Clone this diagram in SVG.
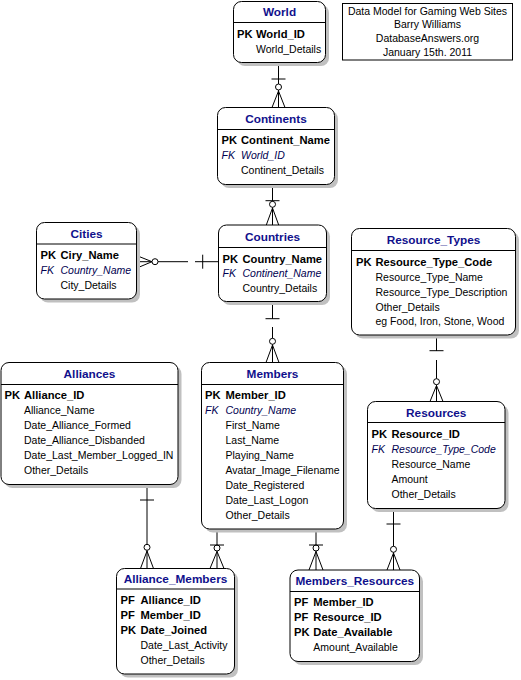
<svg xmlns="http://www.w3.org/2000/svg" width="521" height="680" viewBox="0 0 521 680">
<style>
text{font-family:"Liberation Sans",Arial,sans-serif;font-size:10.5px;fill:#000}
.t{font-weight:bold;font-size:11.8px;fill:#10108c;text-anchor:middle}
.k{font-weight:bold;font-size:11.2px}
.fk{font-style:italic;fill:#000050}
.box{fill:#fff;stroke:#000;stroke-width:1}
.sh{fill:#c0c0c0}
.hl{stroke:#000;stroke-width:1}
.c{fill:none;stroke:#000;stroke-width:1}
.note{text-anchor:middle}
</style>
<rect width="521" height="680" fill="#fff"/>

<g id="title">
<rect x="342.5" y="3.5" width="170" height="56.5" fill="#fff" stroke="#000"/>
<text class="note" x="427.5" y="14.7">Data Model for Gaming Web Sites</text>
<text class="note" x="427.5" y="28.3">Barry Williams</text>
<text class="note" x="427.5" y="42.3">DatabaseAnswers.org</text>
<text class="note" x="427.5" y="56.3">January 15th. 2011</text>
</g>

<g id="connectors">
<!-- World - Continents -->
<path class="c" d="M278.5 62V84M271.5 79H285.5M278.5 90V107.5M278.5 91L272 107.5M278.5 91L285 107.5"/>
<circle class="c" cx="278.5" cy="87" r="3"/>
<!-- Continents - Countries -->
<path class="c" d="M272.5 184.5V201.3M265.5 200.7H279.5M272.5 207.3V225M272.5 208L266.3 225M272.5 208L278.7 225"/>
<circle class="c" cx="272.5" cy="204.3" r="3"/>
<!-- Countries - Members -->
<path class="c" d="M272.5 301.5V318.7M265.5 318.7H279.5M272.5 327V338.3M272.5 344.3V362.5M272.5 345L266 362.5M272.5 345L279 362.5"/>
<circle class="c" cx="272.5" cy="341.3" r="3"/>
<!-- Cities - Countries -->
<path class="c" d="M218.5 261.7H195M202.7 254.7V268.7M188 261.7H158M152 261.7H137M152 261.7L137 255.7M152 261.7L137 268"/>
<circle class="c" cx="155" cy="261.7" r="3"/>
<!-- Resource_Types - Resources -->
<path class="c" d="M436.5 335V351M429.5 350.7H443.5M436.5 360V378.7M436.5 384.7V401.5M436.5 385.5L430 401.5M436.5 385.5L443 401.5"/>
<circle class="c" cx="436.5" cy="381.7" r="3"/>
<!-- Alliances - Alliance_Members -->
<path class="c" d="M147 484.5V544.3M140 500H154M147 550.3V568.5M147 551L140.5 568.5M147 551L153.5 568.5"/>
<circle class="c" cx="147" cy="547.3" r="3"/>
<!-- Members - Alliance_Members -->
<path class="c" d="M217 529V545M210 545H224M217 551V568.5M217 551.5L210 568.5M217 551.5L224 568.5"/>
<circle class="c" cx="217" cy="548" r="3"/>
<!-- Members - Members_Resources -->
<path class="c" d="M316 529V545M309 545H323M316 551V570M316 551.5L309 570M316 551.5L323 570"/>
<circle class="c" cx="316" cy="548" r="3"/>
<!-- Resources - Members_Resources -->
<path class="c" d="M393.5 508.5V546.3M386.5 524H400.5M393.5 552.3V570M393.5 553L387 570M393.5 553L400 570"/>
<circle class="c" cx="393.5" cy="549.3" r="3"/>
</g>

<g id="World">
<rect class="sh" x="237" y="5" width="92" height="61" rx="8"/>
<rect class="box" x="233.5" y="1.5" width="92" height="61" rx="8"/>
<line class="hl" x1="233.5" y1="22.5" x2="325.5" y2="22.5"/>
<text class="t" x="279.5" y="16">World</text>
<text class="k" x="237" y="37.5">PK</text><text class="k" x="256" y="37.5">World_ID</text>
<text x="256" y="52.5">World_Details</text>
</g>

<g id="Continents">
<rect class="sh" x="221" y="111" width="117" height="77" rx="8"/>
<rect class="box" x="217.5" y="107.5" width="117" height="77" rx="8"/>
<line class="hl" x1="217.5" y1="129.5" x2="334.5" y2="129.5"/>
<text class="t" x="276" y="123">Continents</text>
<text class="k" x="221.5" y="144">PK</text><text class="k" x="241" y="144">Continent_Name</text>
<text class="fk" x="221.5" y="159">FK</text><text class="fk" x="241" y="159">World_ID</text>
<text x="241" y="174">Continent_Details</text>
</g>

<g id="Cities">
<rect class="sh" x="40" y="226" width="100" height="76.5" rx="8"/>
<rect class="box" x="36.5" y="222.5" width="100" height="76.5" rx="8"/>
<line class="hl" x1="36.5" y1="244" x2="136.5" y2="244"/>
<text class="t" x="86.5" y="237.5">Cities</text>
<text class="k" x="40.5" y="259">PK</text><text class="k" x="60.5" y="259">Ciry_Name</text>
<text class="fk" x="40.5" y="274">FK</text><text class="fk" x="60.5" y="274">Country_Name</text>
<text x="60.5" y="289">City_Details</text>
</g>

<g id="Countries">
<rect class="sh" x="222" y="228.5" width="108" height="76.5" rx="8"/>
<rect class="box" x="218.5" y="225" width="108" height="76.5" rx="8"/>
<line class="hl" x1="218.5" y1="247.5" x2="326.5" y2="247.5"/>
<text class="t" x="272.5" y="241">Countries</text>
<text class="k" x="222.5" y="262.5">PK</text><text class="k" x="242.5" y="262.5">Country_Name</text>
<text class="fk" x="222.5" y="277">FK</text><text class="fk" x="242.5" y="277">Continent_Name</text>
<text x="242.5" y="292">Country_Details</text>
</g>

<g id="Resource_Types">
<rect class="sh" x="355" y="232" width="164" height="106.5" rx="8"/>
<rect class="box" x="351.5" y="228.5" width="164" height="106.5" rx="8"/>
<line class="hl" x1="351.5" y1="250.5" x2="515.5" y2="250.5"/>
<text class="t" x="433.5" y="244">Resource_Types</text>
<text class="k" x="356" y="265.5">PK</text><text class="k" x="375.5" y="265.5">Resource_Type_Code</text>
<text x="375.5" y="280.5">Resource_Type_Name</text>
<text x="375.5" y="295.5">Resource_Type_Description</text>
<text x="375.5" y="310.5">Other_Details</text>
<text x="375.5" y="325">eg Food, Iron, Stone, Wood</text>
</g>

<g id="Resources">
<rect class="sh" x="371" y="405" width="137.5" height="107" rx="8"/>
<rect class="box" x="367.5" y="401.5" width="137.5" height="107" rx="8"/>
<line class="hl" x1="367.5" y1="422.5" x2="505" y2="422.5"/>
<text class="t" x="436.25" y="416.7">Resources</text>
<text class="k" x="371.5" y="437.5">PK</text><text class="k" x="391.5" y="437.5">Resource_ID</text>
<text class="fk" x="371.5" y="452.5">FK</text><text class="fk" x="391.5" y="452.5">Resource_Type_Code</text>
<text x="391.5" y="467.5">Resource_Name</text>
<text x="391.5" y="482.5">Amount</text>
<text x="391.5" y="497.5">Other_Details</text>
</g>

<g id="Alliances">
<rect class="sh" x="4.5" y="366" width="177" height="122" rx="8"/>
<rect class="box" x="1" y="362.5" width="177" height="122" rx="8"/>
<line class="hl" x1="1" y1="384.5" x2="178" y2="384.5"/>
<text class="t" x="89.5" y="377.5">Alliances</text>
<text class="k" x="4.5" y="399">PK</text><text class="k" x="24" y="399">Alliance_ID</text>
<text x="24" y="414">Alliance_Name</text>
<text x="24" y="429">Date_Alliance_Formed</text>
<text x="24" y="444">Date_Alliance_Disbanded</text>
<text x="24" y="459">Date_Last_Member_Logged_IN</text>
<text x="24" y="474">Other_Details</text>
</g>

<g id="Members">
<rect class="sh" x="205" y="366" width="142" height="166.5" rx="8"/>
<rect class="box" x="201.5" y="362.5" width="142" height="166.5" rx="8"/>
<line class="hl" x1="201.5" y1="384.5" x2="343.5" y2="384.5"/>
<text class="t" x="272.5" y="377.5">Members</text>
<text class="k" x="205" y="399">PK</text><text class="k" x="225.5" y="399">Member_ID</text>
<text class="fk" x="205" y="414">FK</text><text class="fk" x="225.5" y="414">Country_Name</text>
<text x="225.5" y="429">First_Name</text>
<text x="225.5" y="444">Last_Name</text>
<text x="225.5" y="459">Playing_Name</text>
<text x="225.5" y="474">Avatar_Image_Filename</text>
<text x="225.5" y="489">Date_Registered</text>
<text x="225.5" y="504">Date_Last_Logon</text>
<text x="225.5" y="519">Other_Details</text>
</g>

<g id="Alliance_Members">
<rect class="sh" x="120" y="572" width="118" height="105.5" rx="8"/>
<rect class="box" x="116.5" y="568.5" width="118" height="105.5" rx="8"/>
<line class="hl" x1="116.5" y1="589" x2="234.5" y2="589"/>
<text class="t" x="175.5" y="582.5">Alliance_Members</text>
<text class="k" x="120.5" y="604">PF</text><text class="k" x="140.5" y="604">Alliance_ID</text>
<text class="k" x="120.5" y="619">PF</text><text class="k" x="140.5" y="619">Member_ID</text>
<text class="k" x="120.5" y="634">PK</text><text class="k" x="140.5" y="634">Date_Joined</text>
<text x="140.5" y="649">Date_Last_Activity</text>
<text x="140.5" y="664">Other_Details</text>
</g>

<g id="Members_Resources">
<rect class="sh" x="293.5" y="573.5" width="129.5" height="91.5" rx="8"/>
<rect class="box" x="290" y="570" width="129.5" height="91.5" rx="8"/>
<line class="hl" x1="290" y1="591.5" x2="419.5" y2="591.5"/>
<text class="t" x="354.75" y="585">Members_Resources</text>
<text class="k" x="294" y="606.3">PF</text><text class="k" x="313.3" y="606.3">Member_ID</text>
<text class="k" x="294" y="621.3">PF</text><text class="k" x="313.3" y="621.3">Resource_ID</text>
<text class="k" x="294" y="636.3">PK</text><text class="k" x="313.3" y="636.3">Date_Available</text>
<text x="313.3" y="650.7">Amount_Available</text>
</g>
</svg>
